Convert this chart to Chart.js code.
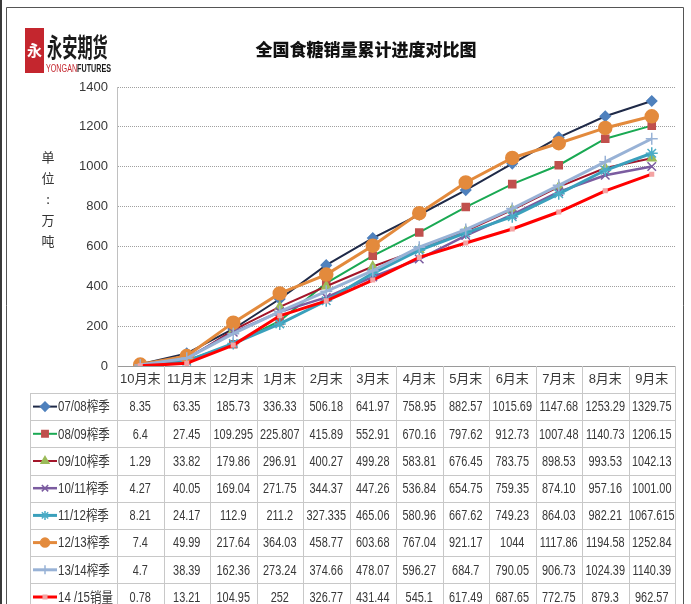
<!DOCTYPE html>
<html>
<head>
<meta charset="utf-8">
<script src="https://cdn.jsdelivr.net/npm/chart.js@4.4.1/dist/chart.umd.min.js"></script>
<style>
  html, body { margin: 0; padding: 0; background: #fff; }
  canvas { display: block; }
</style>
</head>
<body>
<canvas id="c" width="691" height="604"></canvas>
<script>
// ── data ─────────────────────────────────────────────────────────────────
const months  = ['10月末','11月末','12月末','1月末','2月末','3月末','4月末','5月末','6月末','7月末','8月末','9月末'];
const seasons = ['07/08榨季','08/09榨季','09/10榨季','10/11榨季','11/12榨季','12/13榨季','13/14榨季','14 /15销量'];
const yTicks  = [0, 200, 400, 600, 800, 1000, 1200, 1400];

// kept as strings so the table shows them as printed
const s0708 = ['8.35','63.35','185.73','336.33','506.18','641.97','758.95','882.57','1015.69','1147.68','1253.29','1329.75'];
const s0809 = ['6.4','27.45','109.295','225.807','415.89','552.91','670.16','797.62','912.73','1007.48','1140.73','1206.15'];
const s0910 = ['1.29','33.82','179.86','296.91','400.27','499.28','583.81','676.45','783.75','898.53','993.53','1042.13'];
const s1011 = ['4.27','40.05','169.04','271.75','344.37','447.26','536.84','654.75','759.35','874.10','957.16','1001.00'];
const s1112 = ['8.21','24.17','112.9','211.2','327.335','465.06','580.96','667.62','749.23','864.03','982.21','1067.615'];
const s1213 = ['7.4','49.99','217.64','364.03','458.77','603.68','767.04','921.17','1044','1117.86','1194.58','1252.84'];
const s1314 = ['4.7','38.39','162.36','273.24','374.66','478.07','596.27','684.7','790.05','906.73','1024.39','1140.39'];
const s1415 = ['0.78','13.21','104.95','252','326.77','431.44','545.1','617.49','687.65','772.75','879.3','962.57'];

const seriesData = [s0708, s0809, s0910, s1011, s1112, s1213, s1314, s1415];

// ── styles ───────────────────────────────────────────────────────────────
const SANS = "'Liberation Sans','Noto Sans CJK SC',sans-serif";
const CJK  = "'Noto Sans CJK SC',sans-serif";

const styles = [
  { line: '#1f2a48', width: 2,   shape: 'rectRot',  r: 5,   fill: '#4f81bd', edge: '#4f81bd' },
  { line: '#1aa953', width: 2,   shape: 'rect',     r: 5,   fill: '#c0504d', edge: '#c0504d' },
  { line: '#a3162a', width: 2,   shape: 'triangle', r: 5,   fill: '#9bbb59', edge: '#9bbb59' },
  { line: '#7b5ca0', width: 2.5, shape: 'crossRot', r: 6,   fill: '#7b5ca0', edge: '#7b5ca0' },
  { line: '#3aa0bc', width: 3,   shape: 'star',     r: 6,   fill: '#4bacc6', edge: '#4bacc6' },
  { line: '#e38a3c', width: 3,   shape: 'circle',   r: 6.5, fill: '#e38a3c', edge: '#e38a3c' },
  { line: '#98b2d6', width: 3,   shape: 'cross',    r: 6,   fill: '#98b2d6', edge: '#98b2d6' },
  { line: '#ff0000', width: 3,   shape: 'rect',     r: 2.5, fill: '#f4a3a3', edge: '#f4a3a3' },
];

const datasets = seriesData.map((arr, i) => ({
  label: seasons[i],
  data: arr.map(Number),
  borderColor: styles[i].line,
  borderWidth: styles[i].width,
  pointStyle: styles[i].shape,
  pointRadius: styles[i].r,
  pointBackgroundColor: styles[i].fill,
  pointBorderColor: styles[i].edge,
  pointBorderWidth: 1.5,
  tension: 0,
  fill: false,
  order: seriesData.length - 1 - i,   // later seasons on top, like Excel
}));

// narrow text: draw squeezed horizontally
function narrowText(ctx, txt, x, y, align, sx) {
  ctx.save();
  ctx.translate(x, y);
  ctx.scale(sx, 1);
  ctx.textAlign = align;
  ctx.fillText(txt, 0, 0);
  ctx.restore();
}

// ── frame, logo, title, unit label and data table ───────────────────────
const decor = {
  id: 'decor',
  beforeDraw(chart) {
    const ctx = chart.ctx;
    ctx.save();
    ctx.fillStyle = '#fff';
    ctx.fillRect(0, 0, chart.width, chart.height);
    ctx.restore();
  },
  afterDraw(chart) {
    const ctx = chart.ctx;
    const xs = chart.scales.x, ys = chart.scales.y;
    const L = xs.left, R = xs.right, step = (R - L) / months.length;
    const axisY = ys.bottom, headB = 393, rowH = 27.2, bottom = chart.height;

    ctx.save();

    // frame
    ctx.fillStyle = '#3a3a3a';
    ctx.fillRect(0, 0, 2, bottom);
    ctx.strokeStyle = '#555';
    ctx.lineWidth = 1;
    ctx.beginPath();
    ctx.moveTo(6.5, bottom); ctx.lineTo(6.5, 7.5); ctx.lineTo(683.5, 7.5); ctx.lineTo(683.5, bottom);
    ctx.stroke();

    // logo
    ctx.fillStyle = '#c4262e';
    ctx.fillRect(25, 28, 19, 45);
    ctx.fillStyle = '#fff';
    ctx.font = 'bold 15px ' + CJK;
    ctx.textAlign = 'center'; ctx.textBaseline = 'middle';
    ctx.fillText('永', 34.5, 50);
    ctx.save();
    ctx.translate(47, 57);
    ctx.scale(0.8, 1.4);
    ctx.fillStyle = '#1a1a1a';
    ctx.font = 'bold 19px ' + CJK;
    ctx.textAlign = 'left'; ctx.textBaseline = 'alphabetic';
    ctx.fillText('永安期货', 0, 0);
    ctx.restore();
    ctx.save();
    ctx.font = '9px ' + SANS;
    const w1 = ctx.measureText('YONGAN').width;
    ctx.font = 'bold 9px ' + SANS;
    const w2 = ctx.measureText('FUTURES').width;
    ctx.translate(46, 72);
    ctx.scale(65 / (w1 + w2), 1.15);
    ctx.textAlign = 'left'; ctx.textBaseline = 'alphabetic';
    ctx.font = '9px ' + SANS;
    ctx.fillStyle = '#c4262e';
    ctx.fillText('YONGAN', 0, 0);
    ctx.font = 'bold 9px ' + SANS;
    ctx.fillStyle = '#1a1a1a';
    ctx.fillText('FUTURES', w1, 0);
    ctx.restore();

    // title
    ctx.fillStyle = '#111';
    ctx.font = '900 17px ' + CJK;
    ctx.textAlign = 'center'; ctx.textBaseline = 'middle';
    ctx.fillText('全国食糖销量累计进度对比图', 366, 50);

    // unit label, stacked
    ctx.fillStyle = '#333';
    ctx.font = '13px ' + CJK;
    ['单', '位', ':', '万', '吨'].forEach((ch, k) => ctx.fillText(ch, 48, 157 + k * 21));

    // table grid
    ctx.strokeStyle = '#c8c8c8';
    ctx.lineWidth = 1;
    ctx.beginPath();
    for (let i = 0; i <= months.length; i++) {
      const x = Math.round(L + i * step) + 0.5;
      ctx.moveTo(x, axisY); ctx.lineTo(x, bottom);
    }
    ctx.moveTo(30.5, headB); ctx.lineTo(30.5, bottom);
    for (let r = 0; r <= seasons.length; r++) {
      const y = Math.round(headB + r * rowH) + 0.5;
      ctx.moveTo(30, y); ctx.lineTo(R, y);
    }
    ctx.stroke();

    // rows
    seriesData.forEach((arr, r) => {
      const cy = headB + (r + 0.5) * rowH;
      const st = styles[r];
      // legend key
      ctx.strokeStyle = st.line;
      ctx.lineWidth = st.width;
      ctx.beginPath(); ctx.moveTo(33, cy); ctx.lineTo(57, cy); ctx.stroke();
      ctx.fillStyle = st.fill;
      ctx.strokeStyle = st.edge;
      ctx.lineWidth = 1.5;
      Chart.helpers.drawPoint(ctx, { pointStyle: st.shape, radius: Math.min(st.r, 4.5), rotation: 0, borderWidth: 1.5 }, 45, cy);
      ctx.fillStyle = '#383838';
      ctx.font = '14px ' + SANS;
      ctx.textBaseline = 'middle';
      narrowText(ctx, seasons[r], 58, cy + 1, 'left', 0.82);
      // values
      arr.forEach((v, i) => narrowText(ctx, v, xs.getPixelForValue(i), cy + 1, 'center', 0.78));
    });

    ctx.restore();
  }
};

new Chart(document.getElementById('c'), {
  type: 'line',
  data: { labels: months, datasets },
  plugins: [decor],
  options: {
    responsive: false,
    animation: false,
    events: [],
    layout: { padding: { top: 87, left: 0, right: 16, bottom: 0 } },
    plugins: { legend: { display: false }, tooltip: { enabled: false } },
    scales: {
      x: {
        offset: true,
        grid: { display: false, drawTicks: false },
        border: { color: '#9a9a9a', width: 1 },
        ticks: { color: '#383838', font: { family: SANS, size: 13 }, padding: 6, autoSkip: false, maxRotation: 0 },
        afterFit: s => { s.height = 604 - 366; },
      },
      y: {
        min: 0, max: 1400,
        afterBuildTicks: s => { s.ticks = yTicks.map(v => ({ value: v })); },
        grid: { color: '#a0a0a0', lineWidth: 1, drawTicks: false },
        border: { color: '#c0c0c0', width: 1, dash: [1, 1] },
        ticks: { color: '#383838', font: { family: SANS, size: 13 }, padding: 9, callback: v => String(v) },
        afterFit: s => { s.width = 117; },
      },
    },
  },
});
</script>
</body>
</html>
